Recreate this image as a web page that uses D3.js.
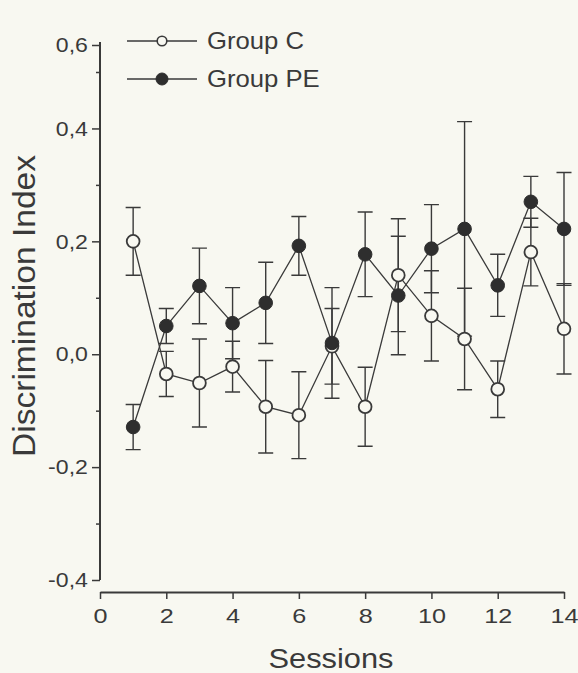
<!DOCTYPE html>
<html>
<head>
<meta charset="utf-8">
<script src="https://cdn.jsdelivr.net/npm/d3@7/dist/d3.min.js"></script>
<style>
  html, body { margin: 0; padding: 0; background: #f8f8f1; }
  svg { display: block; }
  text { font-family: "Liberation Sans", Arial, Helvetica, sans-serif; fill: #3a3a3a; }
</style>
</head>
<body>
<svg id="chart" width="578" height="673"></svg>
<script>
// ---------- data ----------
const sessions = [1, 2, 3, 4, 5, 6, 7, 8, 9, 10, 11, 12, 13, 14];
const groupC    = [0.200, -0.035, -0.051, -0.022, -0.093, -0.108, 0.014, -0.093, 0.140, 0.068, 0.027, -0.062, 0.181, 0.045];
const groupCErr = [0.060,  0.040,  0.078,  0.045,  0.082,  0.077, 0.067,  0.070, 0.100, 0.080, 0.090,  0.050, 0.060, 0.080];
const groupPE    = [-0.129, 0.050, 0.121, 0.055, 0.091, 0.192, 0.020, 0.177, 0.104, 0.187, 0.222, 0.122, 0.270, 0.222];
const groupPEErr = [ 0.040, 0.031, 0.067, 0.063, 0.072, 0.052, 0.098, 0.075, 0.105, 0.078, 0.190, 0.055, 0.045, 0.100];
const seriesNames = ["Group C", "Group PE"];
const xTickValues = [0, 2, 4, 6, 8, 10, 12, 14];
const yMajorTicks = [-0.4, -0.2, 0.0, 0.2, 0.4, 0.6];
const yMinorTicks = [-0.3, -0.1, 0.1, 0.3, 0.5];
const xTitle = "Sessions";
const yTitle = "Discrimination Index";

// ---------- setup ----------
const BG = "#f8f8f1";
const INK = "#3a3a3a";
const svg = d3.select("#chart");
svg.append("rect").attr("width", 578).attr("height", 673).attr("fill", BG);

const x = d3.scaleLinear().domain([0, 14]).range([100, 564]);
// the printed axis is compressed above 0,5
const y = d3.scaleLinear().domain([-0.4, 0.5, 0.6]).range([580, 72, 45]);

const locale = d3.formatLocale({ decimal: ",", thousands: ".", grouping: [3], currency: ["", ""], minus: "-" });
const fmt = locale.format(".1f");

// ---------- y axis ----------
const yAxisG = svg.append("g").attr("transform", "translate(100,0)")
  .call(d3.axisLeft(y).tickValues(yMajorTicks).tickSize(8).tickPadding(3).tickFormat(fmt));
yAxisG.select(".domain").attr("stroke", INK).attr("stroke-width", 2).attr("d", `M0,${y(0.6) - 3}V${y(-0.4)}`);
yAxisG.selectAll(".tick line").attr("stroke", INK).attr("stroke-width", 1.5);
yAxisG.selectAll(".tick text").attr("font-size", 21).attr("fill", INK)
  .attr("font-family", '"Liberation Sans", Arial, sans-serif')
  .attr("transform", "scale(1.1,1)");
const yMinorG = svg.append("g").attr("transform", "translate(100,0)")
  .call(d3.axisLeft(y).tickValues(yMinorTicks).tickSize(4).tickFormat(""));
yMinorG.select(".domain").remove();
yMinorG.selectAll(".tick line").attr("stroke", INK).attr("stroke-width", 1.5);

// ---------- x axis ----------
const xAxisG = svg.append("g").attr("transform", "translate(0,592)")
  .call(d3.axisBottom(x).tickValues(xTickValues).tickSize(7).tickSizeOuter(0).tickPadding(9).tickFormat(d => String(d)));
xAxisG.select(".domain").attr("stroke", INK).attr("stroke-width", 2);
xAxisG.selectAll(".tick line").attr("stroke", INK).attr("stroke-width", 1.5);
xAxisG.selectAll(".tick text").attr("font-size", 21).attr("fill", INK)
  .attr("font-family", '"Liberation Sans", Arial, sans-serif')
  .attr("transform", "scale(1.2,1)");

// ---------- titles ----------
svg.append("text").attr("transform", "translate(331,668) scale(1.1,1)")
  .attr("text-anchor", "middle").attr("font-size", 28).text(xTitle);
svg.append("text").attr("transform", "translate(35,306) rotate(-90)")
  .attr("text-anchor", "middle").attr("font-size", 32).attr("textLength", 302)
  .attr("lengthAdjust", "spacingAndGlyphs").text(yTitle);

// ---------- series ----------
const dataC = sessions.map((s, i) => ({ s, v: groupC[i], e: groupCErr[i] }));
const dataPE = sessions.map((s, i) => ({ s, v: groupPE[i], e: groupPEErr[i] }));
const series = [
  { name: seriesNames[0], data: dataC, filled: false },
  { name: seriesNames[1], data: dataPE, filled: true }
];

const plot = svg.append("g");
const capW = 7.5;
// error bars
series.forEach(sr => {
  const g = plot.append("g");
  g.selectAll("path").data(sr.data).join("path")
    .attr("fill", "none").attr("stroke", INK).attr("stroke-width", 1.4)
    .attr("d", d => {
      const cx = x(d.s), yt = y(d.v + d.e), yb = y(d.v - d.e);
      return `M${cx},${yt}V${yb}M${cx - capW},${yt}H${cx + capW}M${cx - capW},${yb}H${cx + capW}`;
    });
});
// lines
const line = d3.line().x(d => x(d.s)).y(d => y(d.v));
series.forEach(sr => {
  plot.append("path").datum(sr.data).attr("fill", "none")
    .attr("stroke", INK).attr("stroke-width", 1.3).attr("d", line);
});
// markers
series.forEach(sr => {
  plot.append("g").selectAll("circle").data(sr.data).join("circle")
    .attr("cx", d => x(d.s)).attr("cy", d => y(d.v))
    .attr("r", sr.filled ? 6.8 : 6.4)
    .attr("fill", sr.filled ? "#2e2e2e" : BG)
    .attr("stroke", sr.filled ? "#2e2e2e" : INK)
    .attr("stroke-width", sr.filled ? 1 : 1.8);
});

// ---------- legend ----------
const legend = svg.append("g");
const legendRows = [41, 79];
series.forEach((sr, i) => {
  const ly = legendRows[i];
  legend.append("line").attr("x1", 127).attr("x2", 197).attr("y1", ly).attr("y2", ly)
    .attr("stroke", INK).attr("stroke-width", 1.3);
  legend.append("circle").attr("cx", 162).attr("cy", ly)
    .attr("r", sr.filled ? 6 : 4.8)
    .attr("fill", sr.filled ? "#2e2e2e" : BG)
    .attr("stroke", sr.filled ? "#2e2e2e" : INK)
    .attr("stroke-width", sr.filled ? 1 : 1.6);
  legend.append("text").attr("transform", `translate(207,${ly + 8}) scale(1.07,1)`)
    .attr("font-size", 24).text(sr.name);
});
</script>
</body>
</html>
